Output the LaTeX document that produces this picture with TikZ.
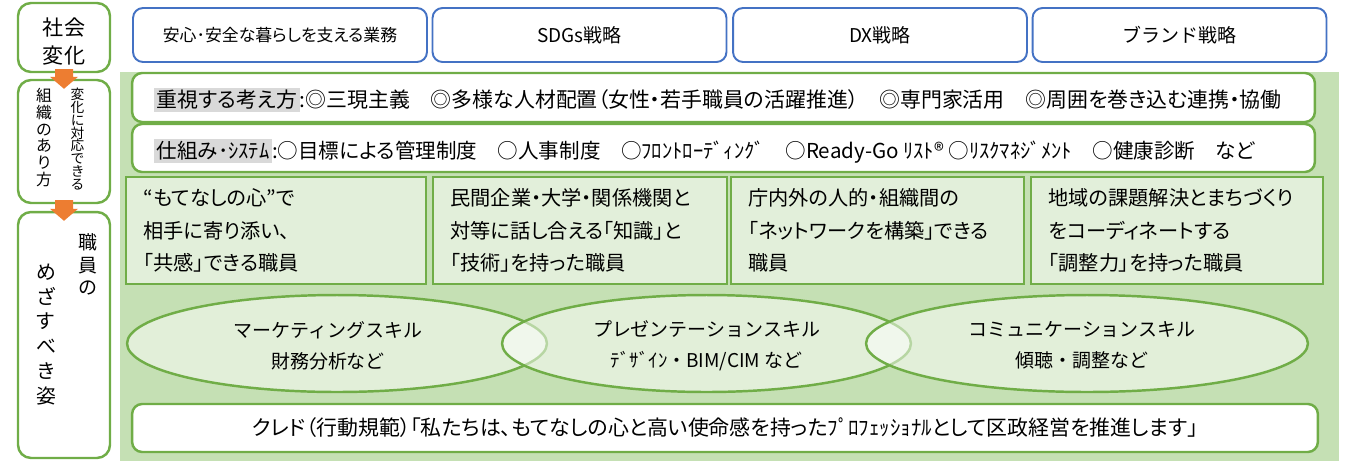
\documentclass[tikz,border=0pt]{standalone}
\usepackage{fontspec}
\setmainfont{Noto Sans CJK JP}[RawFeature={+palt}]
\newfontfamily\plainjp{Noto Sans CJK JP}
\usepackage{tikz}
\usetikzlibrary{shapes.geometric,calc}

\definecolor{leaf}{HTML}{70AD47}
\definecolor{meadow}{HTML}{C5E0B4}
\definecolor{pale}{HTML}{E2EFDA}
\definecolor{strat}{HTML}{4472C4}
\definecolor{flow}{HTML}{ED7D31}
\definecolor{hl}{HTML}{D9D9D9}

\newcommand{\keyword}[1]{{\setlength{\fboxsep}{1.5pt}\colorbox{hl}{#1}}}

\tikzset{
  stratbox/.style={draw=strat, line width=1.1pt, fill=white, rounded corners=0.2cm,
    minimum width=5.88cm, minimum height=1.08cm, font=\plainjp\fontsize{10.8}{12}\selectfont},
  sidebox/.style={draw=leaf, line width=1.4pt, fill=white, rounded corners=0.26cm,
    minimum width=1.84cm},
  rowbox/.style={draw=leaf, line width=1.4pt, fill=white, rounded corners=0.2cm,
    minimum width=23.66cm},
  rowtext/.style={anchor=west, inner sep=0pt, font=\fontsize{11.9}{13}\selectfont},
  staffbox/.style={draw=leaf, line width=1.6pt, fill=pale, minimum height=2.14cm,
    align=left, inner xsep=0.35cm, font=\fontsize{11.5}{18.4}\selectfont},
  skill/.style={ellipse, draw=leaf, line width=1.4pt, fill=white, fill opacity=0.5,
    minimum height=1.94cm},
  skilltext/.style={align=center, inner sep=0pt, font=\plainjp\fontsize{10.8}{17.6}\selectfont},
  vtext/.style={align=center, inner sep=0pt, execute at begin node={\lineskiplimit=-10pt}},
  flowarrow/.style={fill=flow},
}

\begin{document}
\begin{tikzpicture}[x=0.02cm, y=-0.02cm]
\useasboundingbox (0,0) rectangle (1347,461);
% green ground behind the staff part
\fill[meadow] (120,72) rectangle (1339,461);

% left column
\node[sidebox, minimum height=1.38cm] (shakai) at (64,37.5) {};
\node[sidebox, minimum height=2.46cm] (soshiki) at (64,141.5) {};
\node[sidebox, minimum height=4.92cm] (shokuin) at (64,335) {};
\node[vtext, font=\fontsize{12}{16.4}\selectfont] (shakaiText) at ($(shakai)+(0,4)$) {社会\\変化};
\node[vtext, font=\fontsize{7.8}{7.3}\selectfont] (soshikiR) at (77.5,139) {変\\化\\に\\対\\応\\で\\き\\る};
\node[vtext, font=\fontsize{9}{9.6}\selectfont] (soshikiL) at (44,137.5) {組\\織\\の\\あ\\り\\方};
\node[vtext, font=\fontsize{10.8}{12.75}\selectfont] (shokuinR) at (88,264.5) {職\\員\\の};
\node[vtext, font=\fontsize{11.3}{14.2}\selectfont] (shokuinL) at (46,334.5) {め\\ざ\\す\\べ\\き\\姿};

\foreach \a/\b in {shakai/soshiki, soshiki/shokuin}
  \fill[flowarrow] ($(\a.south)+(-9,-4)$) -- ($(\a.south)+(9,-4)$) -- ($(\b.north)+(9,-2)$)
    -- ($(\b.north)+(14,-2)$) -- ($(\b.north)+(0,10)$) -- ($(\b.north)+(-14,-2)$)
    -- ($(\b.north)+(-9,-2)$) -- cycle;

% strategies
\node[stratbox, font=\fontsize{9.6}{11}\selectfont] (anshin) at (280,35) {安心･安全な暮らしを支える業務};
\node[stratbox] (sdgs) at (579.5,35) {SDGs戦略};
\node[stratbox] (dx) at (880,35) {DX戦略};
\node[stratbox] (brand) at (1179.5,35) {ブランド戦略};

% organisation rows
\node[rowbox, minimum height=0.98cm] (kangae) at (723.5,97.5) {};
\node[rowbox, minimum height=0.96cm] (shikumi) at (723.5,148) {};
\node[rowtext] (kangaeText) at ($(kangae.west)+(23,2.5)$) {\keyword{重視する考え方}:◎三現主義　◎多様な人材配置（女性・若手職員の活躍推進）　◎専門家活用　◎周囲を巻き込む連携・協働};
\node[rowtext, font=\fontsize{11.7}{13}\selectfont] (shikumiText) at ($(shikumi.west)+(23,3)$) {\keyword{仕組み･ｼｽﾃﾑ}:○目標による管理制度　○人事制度　○ﾌﾛﾝﾄﾛｰﾃﾞｨﾝｸﾞ　○Ready-Go ﾘｽﾄ® ○ﾘｽｸﾏﾈｼﾞﾒﾝﾄ　○健康診断　など};

% staff
\node[staffbox, text width=5.3cm] (kyokan) at (276,230.5) {“もてなしの心”で\\相手に寄り添い、\\「共感」できる職員};
\node[staffbox, text width=5.18cm] (chishiki) at (580,230.5) {民間企業・大学・関係機関と\\対等に話し合える「知識」と\\「技術」を持った職員};
\node[staffbox, text width=5.16cm] (network) at (877.5,230.5) {庁内外の人的・組織間の\\「ネットワークを構築」できる\\職員};
\node[staffbox, text width=5.14cm] (chosei) at (1177,230.5) {地域の課題解決とまちづくり\\をコーディネートする\\「調整力」を持った職員};

% skills
\node[skill, minimum width=8.4cm] (marketing) at (337,343.5) {};
\node[skill, minimum width=8.18cm] (presen) at (706.5,343.5) {};
\node[skill, minimum width=8.84cm] (komyu) at (1087,343.5) {};
\node[skilltext] (marketingText) at ($(marketing)+(-9,2)$) {マーケティングスキル\\財務分析など};
\node[skilltext] (presenText) at ($(presen)+(0,2)$) {プレゼンテーションスキル\\ﾃﾞｻﾞｲﾝ・BIM/CIM など};
\node[skilltext] (komyuText) at ($(komyu)+(-5,2)$) {コミュニケーションスキル\\傾聴・調整など};

% credo
\node[rowbox, minimum width=23.72cm, minimum height=0.96cm, font=\fontsize{11.9}{13}\selectfont] (credo) at (725,428) {クレド（行動規範）「私たちは、もてなしの心と高い使命感を持ったﾌﾟﾛﾌｪｯｼｮﾅﾙとして区政経営を推進します」};
\end{tikzpicture}
\end{document}
